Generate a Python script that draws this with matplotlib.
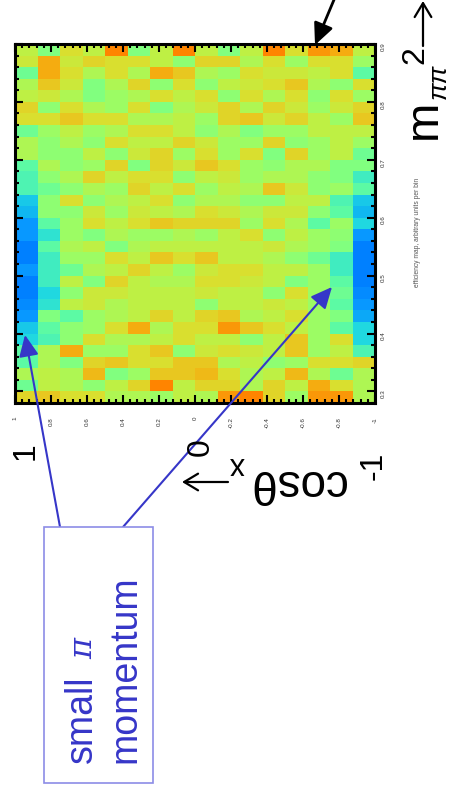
import numpy as np
import matplotlib
matplotlib.use("Agg")
import matplotlib.pyplot as plt
from matplotlib.colors import LinearSegmentedColormap
from matplotlib.patches import Rectangle
from matplotlib import font_manager

W, H = 450, 791

# cos(theta_x) bins shown left -> right (1 .. -1), m^2 bins top -> bottom
cos_ticks = [1, 0.8, 0.6, 0.4, 0.2, 0, -0.2, -0.4, -0.6, -0.8, -1]
cos_tick_labels = ["1", "0.8", "0.6", "0.4", "0.2", "0", "-0.2", "-0.4", "-0.6", "-0.8", "-1"]
m2_ticks = [0.3, 0.4, 0.5, 0.6, 0.7, 0.8, 0.9]
m2_tick_labels = ["0.3", "0.4", "0.5", "0.6", "0.7", "0.8", "0.9"]

counts = [
    [8, 6, 9, 8, 12, 6, 8, 12, 8, 6, 8, 12, 9, 11.5, 11, 8],
    [8.5, 11, 8.5, 9.5, 9, 9, 8, 6.5, 9.5, 9.5, 7.5, 9, 7, 9, 9, 7],
    [5.5, 11, 9, 7.5, 9, 7.5, 11, 10, 7.5, 7, 9, 8.5, 8.5, 8, 9, 5],
    [7.5, 10, 8.5, 6, 7.5, 9.5, 6.5, 9, 6.5, 8, 8.5, 9, 10, 7.5, 6.5, 9],
    [8, 8.5, 7.5, 6, 7, 7.5, 9, 8, 9, 6.5, 9, 7.5, 9, 6.5, 9, 7],
    [9.5, 6.5, 9, 7.5, 7, 9, 6, 7.5, 8.5, 9.5, 7.5, 9.5, 8.5, 7, 8.5, 9.5],
    [9, 9, 10, 9, 9, 7.5, 7.5, 8, 7, 9.5, 10, 8.5, 9.5, 8, 7, 10],
    [5.5, 7, 8, 7, 7.5, 9, 9, 8, 6.5, 7.5, 6, 7, 7, 8, 8, 8],
    [7.5, 6.5, 7.5, 6.5, 9, 8, 8, 9.5, 8.5, 7, 7, 9.5, 6.5, 7, 8, 7],
    [7.5, 6.5, 6.5, 8, 6.5, 8.5, 9.5, 7, 9, 7, 9, 6, 9.5, 7, 8, 5.5],
    [5, 7.5, 6.5, 7, 9.5, 6, 9.5, 8.5, 10, 9, 7, 6.5, 7.5, 7.5, 6, 6],
    [4.5, 6.5, 7.5, 9.5, 8, 9, 9, 6.5, 8, 8.5, 7, 7.5, 7.5, 6.5, 6, 4],
    [4.5, 5.5, 6.5, 7.5, 7, 9.5, 8, 9, 7, 8, 7.5, 10, 8.5, 6.5, 7, 5],
    [2.5, 6.5, 9, 6.5, 7.5, 8, 9, 6.5, 7.5, 7.5, 6.5, 6.5, 8, 8, 4.5, 2.5],
    [2, 6.5, 6.5, 8.5, 7, 8.5, 8, 7.5, 9, 8.5, 7.5, 8.5, 8.5, 6.5, 5, 2],
    [1, 5, 7, 9, 8, 9, 10, 9.5, 9.5, 9.5, 7, 9, 7.5, 5, 7, 3],
    [1, 3.5, 7, 6, 7.5, 7, 7, 7.5, 7, 8, 9, 6.5, 8, 7, 6.5, 1],
    [0, 5, 7.5, 8, 6, 7.5, 8, 8, 8, 8, 8, 8.5, 7.5, 7, 6, 0],
    [0, 4, 7, 7, 9, 8, 10, 9, 10, 8, 8, 7.5, 6.5, 5.5, 4, 0],
    [1, 4, 5.5, 7.5, 8, 9.5, 8, 7, 8.5, 9, 9, 8, 8, 7, 4, 0],
    [0, 4, 8, 6, 9.5, 8, 7.5, 7.5, 9, 9, 8.5, 8, 6, 7, 5, 0],
    [0, 3, 6.5, 8.5, 8.5, 8, 8, 8, 8.5, 8, 8, 6.5, 9, 7, 5.5, 0.5],
    [0.5, 3.5, 8, 8.5, 7.5, 8, 8, 8, 6.5, 8, 8, 8.5, 8, 7, 5, 1],
    [1, 6, 5, 7, 7.5, 8, 9.5, 8, 9.5, 10, 7.5, 8, 9, 7, 6, 1.5],
    [2.5, 5, 6.5, 7, 9, 11, 7.5, 9, 9, 11.5, 10, 9, 8, 7, 5, 3],
    [3, 4.5, 6.5, 9, 7.5, 7.5, 8, 9, 8, 8, 6.5, 8, 10, 7, 9, 3],
    [5, 7.5, 11, 7, 7, 9, 10, 6.5, 8.5, 9, 8.5, 8, 10, 7, 8, 4.5],
    [5, 7.5, 6, 9.5, 10, 9, 9, 10, 10, 7.5, 8, 6.5, 7, 9, 9, 9.5],
    [7.5, 8, 7.5, 10.5, 6, 7, 10, 10, 10.5, 9, 7.5, 8, 10.5, 7.5, 5.5, 7.5],
    [5.5, 8, 7.5, 6.5, 8, 9.5, 12, 8, 9.5, 9.5, 7.5, 9.5, 8, 11, 9, 7.5],
    [9.5, 10, 9, 9, 7.5, 7.5, 7, 8, 7.5, 11.5, 12, 9.5, 7, 11.5, 11.5, 7.5],
]
counts = np.array(counts)

palette = ["#0080ff", "#0898ff", "#10b8f0", "#20d8e0", "#40ecc0", "#5cfaa4",
           "#80ff80", "#9cfc64", "#bef044", "#d8e030", "#e8c820", "#f5ac10", "#ff8400"]
cmap = LinearSegmentedColormap.from_list("root", palette)

available = {f.name for f in font_manager.fontManager.ttflist}
narrow = "Liberation Sans Narrow" in available
plt.rcParams["font.family"] = ["Liberation Sans", "DejaVu Sans"]

fig = plt.figure(figsize=(W / 100, H / 100), dpi=100)
ax = fig.add_axes([15 / W, 1 - 403 / H, 360 / W, 359 / H])

cos_edges = np.linspace(1, -1, counts.shape[1] + 1)
m2_edges = 0.90 - 0.02 * np.arange(counts.shape[0] + 1)
ax.pcolormesh(cos_edges, m2_edges, counts, cmap=cmap, vmin=0, vmax=12)
ax.set_xlim(1, -1)
ax.set_ylim(0.90 - 0.1 * 359 / 58.5, 0.90)

ax.set_xticks(cos_ticks)
ax.set_xticklabels(cos_tick_labels)
ax.set_xticks(np.arange(-1, 1.001, 0.04), minor=True)
ax.set_yticks(m2_ticks)
ax.set_yticklabels(m2_tick_labels)
ax.set_yticks(np.arange(0.28, 0.901, 0.02), minor=True)
ax.tick_params(which="both", direction="in", top=True, bottom=True, left=True, right=True,
               width=1.5, color="black")
ax.tick_params(which="major", length=5.5)
ax.tick_params(which="minor", length=3)
ax.tick_params(axis="x", labelrotation=90, labelsize=4.5, labelcolor="#333333", pad=10)
ax.tick_params(axis="y", labelleft=False, labelright=True, labelrotation=90,
               labelsize=4.5, labelcolor="#333333", pad=4)
for s in ax.spines.values():
    s.set_linewidth(2.2)


def fp(x, y):
    return (x / W, 1 - y / H)


# big hand-placed tick labels
for lab, (x, y) in zip(["1", "0", "-1"], [(26, 451), (201, 447), (374, 466)]):
    fig.text(*fp(x, y), lab, rotation=90, fontsize=23, ha="center", va="center")

# axis labels (picture is rotated)
fig.text(*fp(345, 470), "cosθ", rotation=180, rotation_mode="anchor", ha="left",
         va="baseline", fontsize=33)
fig.text(*fp(245, 457), "x", rotation=180, rotation_mode="anchor", ha="left",
         va="baseline", fontsize=22)
fig.text(*fp(436, 139), "m", rotation=90, rotation_mode="anchor", ha="left",
         va="baseline", fontsize=34)
fig.text(*fp(446, 99), "ππ", rotation=90, rotation_mode="anchor", ha="left",
         va="baseline", fontsize=19, style="italic")
fig.text(*fp(423, 64), "2", rotation=90, rotation_mode="anchor", ha="left",
         va="baseline", fontsize=23)
fig.text(*fp(419, 287), "efficiency map, arbitrary units per bin", rotation=90,
         rotation_mode="anchor", ha="left", va="baseline", fontsize=4.8, color="#555555")

arrow_kw = dict(xycoords="figure fraction", textcoords="figure fraction")
ax.annotate("", xy=fp(182, 482), xytext=fp(228, 482), **arrow_kw,
            arrowprops=dict(arrowstyle="->,head_length=0.5,head_width=0.3", lw=1.6,
                            color="black", mutation_scale=20, shrinkA=0, shrinkB=0))
ax.annotate("", xy=fp(423, 1), xytext=fp(423, 46), **arrow_kw,
            arrowprops=dict(arrowstyle="->,head_length=0.5,head_width=0.3", lw=1.6,
                            color="black", mutation_scale=20, shrinkA=0, shrinkB=0))
ax.annotate("", xy=fp(315, 45), xytext=fp(336, -5), **arrow_kw, annotation_clip=False,
            arrowprops=dict(arrowstyle="-|>,head_length=0.65,head_width=0.3", lw=2,
                            color="black", mutation_scale=20, shrinkA=0, shrinkB=0))

# annotation box
blue = "#3636c8"
fig.patches.append(Rectangle(fp(44, 783), 109 / W, 256 / H, transform=fig.transFigure,
                             facecolor="white", edgecolor="#8c8ce6", lw=1.2))
for start, tip in [((60, 527), (25, 335)), ((123, 527), (332, 287))]:
    ax.annotate("", xy=fp(*tip), xytext=fp(*start), **arrow_kw,
                arrowprops=dict(arrowstyle="-|>,head_length=0.65,head_width=0.3", lw=1.5,
                                color=blue, mutation_scale=20, shrinkA=0, shrinkB=0))

box_family = ["Liberation Sans Narrow", "Liberation Sans"] if narrow else ["Liberation Sans"]
box_size = 32 if narrow else 27
fig.text(*fp(92, 763), "small", rotation=90, rotation_mode="anchor", ha="left",
         va="baseline", fontsize=box_size, color=blue, family=box_family)
fig.text(*fp(92, 659), "π", rotation=90, rotation_mode="anchor", ha="left",
         va="baseline", fontsize=box_size - 4, color=blue, family=["DejaVu Serif"],
         style="italic")
fig.text(*fp(135, 763), "momentum", rotation=90, rotation_mode="anchor", ha="left",
         va="baseline", fontsize=box_size, color=blue, family=box_family)

fig.savefig("out.png", dpi=100)
